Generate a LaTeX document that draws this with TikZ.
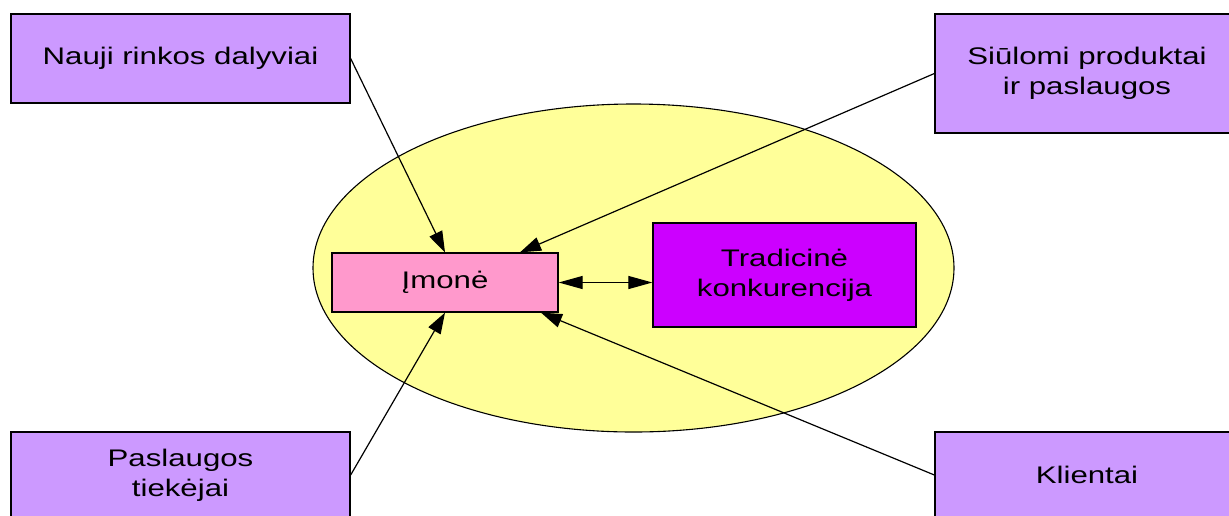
\documentclass[tikz,border=0pt]{standalone}
\usepackage{fontspec}
\setmainfont{Liberation Sans}[FakeStretch=1.3]
\usetikzlibrary{arrows.meta,calc}
\definecolor{boxpurple}{HTML}{CC99FF}
\definecolor{boxpink}{HTML}{FF99CC}
\definecolor{ellyellow}{HTML}{FFFF99}
\definecolor{boxviolet}{HTML}{CC00FF}
\begin{document}
\begin{tikzpicture}[x=1pt,y=-1pt,
  box/.style={draw=black,line width=1.3pt,rectangle,inner sep=0pt,align=center,
    font=\fontsize{24}{30}\selectfont},
  tip/.style={Triangle[length=21pt,width=14pt]},
  conn/.style={line width=1.2pt,-{Triangle[length=21pt,width=14pt]}},
  dconn/.style={line width=1.2pt,{Triangle[length=24pt,width=13pt]}-{Triangle[length=24pt,width=13pt]}}]
\useasboundingbox (0,0) rectangle (1229,515);
\clip (0,0) rectangle (1229,515);
\draw[fill=ellyellow,line width=1.1pt] (633.5,268) ellipse [x radius=320.5, y radius=164];
\node[box,fill=boxpurple,minimum width=339pt,minimum height=89pt] (nauji) at (180.5,58.5) {Nauji rinkos dalyviai};
\node[box,fill=boxpurple,minimum width=304pt,minimum height=119pt] (siul) at (1087,73.5) {Siūlomi produktai\\ir paslaugos};
\node[box,fill=boxpurple,minimum width=339pt,minimum height=86pt] (pasl) at (180.5,475) {Paslaugos\\tiekėjai};
\node[box,fill=boxpurple,minimum width=304pt,minimum height=86pt] (klient) at (1087,475) {Klientai};
\node[box,fill=boxpink,minimum width=226pt,minimum height=59pt] (imone) at (445,282.5) {Įmonė};
\node[box,fill=boxviolet,minimum width=263pt,minimum height=104pt] (trad) at (784.5,275) {Tradicinė\\konkurencija};
\draw[conn] (nauji.east) -- (imone.north);
\draw[conn] (siul.west) -- ([xshift=75pt]imone.north);
\draw[conn] (pasl.east) -- (imone.south);
\draw[conn] (klient.west) -- ([xshift=96pt]imone.south);
\draw[dconn] (imone.east) -- (imone.east -| trad.west);
\end{tikzpicture}
\end{document}
